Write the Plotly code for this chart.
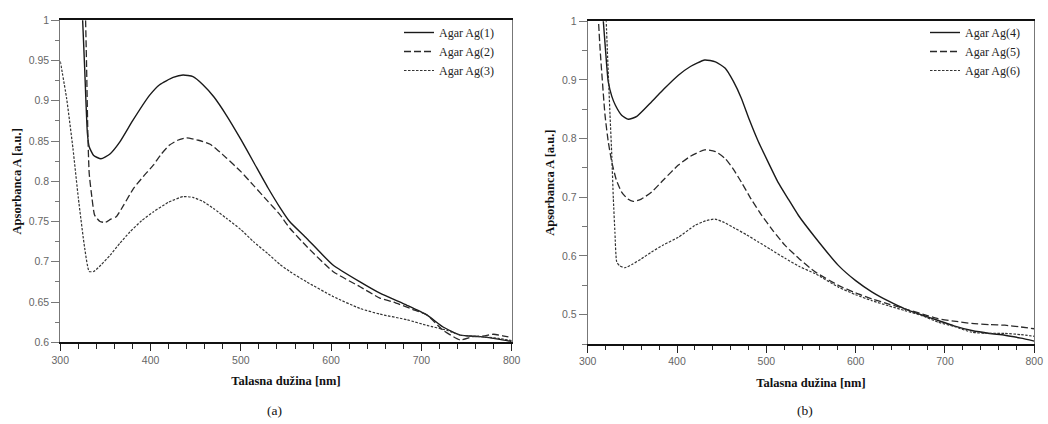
import plotly.graph_objects as go

# ---------------- data ----------------
# Panel (a)
wl_1 = [324, 327, 330, 332, 337, 345, 355, 366, 380, 399, 410, 425, 436, 447, 458, 470, 484, 500,
        514, 530, 543, 554, 573, 602, 632, 654, 684, 706, 724, 743, 765, 785, 800]
abs_1 = [1.02, 0.94, 0.86, 0.843, 0.832, 0.828, 0.834, 0.849, 0.875, 0.907, 0.920, 0.929, 0.932, 0.930,
         0.920, 0.905, 0.882, 0.852, 0.824, 0.792, 0.768, 0.750, 0.729, 0.696, 0.675, 0.661, 0.646,
         0.634, 0.619, 0.609, 0.607, 0.604, 0.601]

wl_2 = [327, 329, 330.5, 332, 335, 338, 344, 350, 356, 362, 370, 381, 392, 403, 412, 421, 430, 440,
        453, 466, 475, 484, 500, 514, 530, 543, 554, 573, 602, 632, 654, 669, 690, 706, 724, 743,
        757, 770, 780, 790, 800]
abs_2 = [1.05, 0.95, 0.86, 0.81, 0.78, 0.758, 0.750, 0.749, 0.753, 0.756, 0.770, 0.791, 0.806, 0.820,
         0.834, 0.845, 0.851, 0.854, 0.851, 0.846, 0.838, 0.829, 0.812, 0.795, 0.775, 0.759, 0.742,
         0.719, 0.688, 0.669, 0.655, 0.650, 0.641, 0.634, 0.615, 0.603, 0.607, 0.608, 0.610, 0.608,
         0.606]

wl_3 = [300, 307, 314, 320, 327, 332, 337, 345, 355, 366, 377, 390, 403, 420, 436, 447, 458, 470,
        484, 500, 514, 530, 543, 554, 573, 602, 632, 654, 684, 706, 728, 743, 765, 785, 800]
abs_3 = [0.949, 0.903, 0.841, 0.779, 0.717, 0.688, 0.688, 0.696, 0.708, 0.723, 0.737, 0.751, 0.762,
         0.774, 0.781, 0.780, 0.775, 0.766, 0.754, 0.740, 0.725, 0.710, 0.697, 0.688, 0.675, 0.657,
         0.642, 0.635, 0.628, 0.621, 0.615, 0.609, 0.607, 0.605, 0.602]

# Panel (b)
wl_4 = [316, 320, 323, 327, 331, 338, 345.5, 355, 371.6, 385, 401.5, 415, 431, 443, 454, 463, 472,
        481, 491, 502, 513, 525, 536, 554.5, 580.6, 600, 618, 637, 655, 675, 692.5, 710, 730, 750,
        767, 785, 800]
abs_4 = [1.03, 0.95, 0.897, 0.872, 0.857, 0.840, 0.833, 0.838, 0.863, 0.884, 0.908, 0.923, 0.934,
         0.931, 0.920, 0.898, 0.869, 0.832, 0.795, 0.760, 0.726, 0.696, 0.669, 0.632, 0.584, 0.558,
         0.539, 0.523, 0.510, 0.499, 0.490, 0.481, 0.473, 0.468, 0.465, 0.460, 0.455]

wl_5 = [311, 314, 319.4, 323, 327, 332, 338, 345, 351, 360, 371.6, 385, 401.5, 415, 431, 443, 454,
        463, 472, 483, 495, 508, 521, 537, 554.5, 580.6, 600, 618, 637, 655, 675, 692.5, 710, 730,
        750, 767, 785, 800]
abs_5 = [1.03, 0.95, 0.840, 0.795, 0.760, 0.730, 0.709, 0.697, 0.693, 0.697, 0.709, 0.730, 0.755,
         0.770, 0.781, 0.778, 0.766, 0.748, 0.726, 0.697, 0.669, 0.642, 0.618, 0.595, 0.573, 0.550,
         0.537, 0.527, 0.518, 0.510, 0.501, 0.493, 0.489, 0.485, 0.483, 0.482, 0.479, 0.476]

wl_6 = [320, 322, 325, 327, 328.7, 330.5, 332.5, 336, 341.8, 350, 360, 371.6, 385, 401.5, 420, 432,
        442.5, 453, 465, 478, 491, 505, 521, 537, 554.5, 580.6, 600, 618, 637, 655, 675, 692.5, 710,
        730, 750, 767, 785, 800]
abs_6 = [1.03, 0.95, 0.840, 0.77, 0.698, 0.64, 0.590, 0.583, 0.580, 0.586, 0.595, 0.607, 0.619, 0.632,
         0.652, 0.660, 0.663, 0.657, 0.647, 0.636, 0.624, 0.611, 0.596, 0.582, 0.570, 0.547, 0.534,
         0.524, 0.515, 0.507, 0.498, 0.487, 0.480, 0.470, 0.468, 0.468, 0.466, 0.463]

names_a = ["Agar Ag(1)", "Agar Ag(2)", "Agar Ag(3)"]
names_b = ["Agar Ag(4)", "Agar Ag(5)", "Agar Ag(6)"]

x_ticks = [300, 400, 500, 600, 700, 800]
x_ticktext = ["300", "400", "500", "600", "700", "800"]
ya_ticks = [0.6, 0.65, 0.7, 0.75, 0.8, 0.85, 0.9, 0.95, 1.0]
ya_ticktext = ["0.6", "0.65", "0.7", "0.75", "0.8", "0.85", "0.9", "0.95", "1"]
yb_ticks = [0.5, 0.6, 0.7, 0.8, 0.9, 1.0]
yb_ticktext = ["0.5", "0.6", "0.7", "0.8", "0.9", "1"]

x_title = "Talasna dužina [nm]"
y_title = "Apsorbanca A [a.u.]"
captions = ["(a)", "(b)"]

# ---------------- figure ----------------
W, H = 1048, 424
fig = go.Figure()

styles = [dict(color="#1a1a1a", width=1.4, dash="solid"),
          dict(color="#2a2a2a", width=1.3, dash="7px,3px"),
          dict(color="#333333", width=1.2, dash="2.5px,1.5px")]

series_a = [(wl_1, abs_1), (wl_2, abs_2), (wl_3, abs_3)]
series_b = [(wl_4, abs_4), (wl_5, abs_5), (wl_6, abs_6)]

for i, ((x, y), nm) in enumerate(zip(series_a, names_a)):
    fig.add_trace(go.Scatter(x=x, y=y, mode="lines", name=nm,
                             line=dict(**styles[i], shape="spline", smoothing=0.5),
                             xaxis="x", yaxis="y", legend="legend"))
for i, ((x, y), nm) in enumerate(zip(series_b, names_b)):
    fig.add_trace(go.Scatter(x=x, y=y, mode="lines", name=nm,
                             line=dict(**styles[i], shape="spline", smoothing=0.5),
                             xaxis="x2", yaxis="y2", legend="legend2"))

tick_font = dict(family="Liberation Sans", size=10.5, color="#666666")
serif = "Times New Roman, Liberation Serif, serif"
title_font = dict(family=serif, size=12.5, color="#111111", weight="bold")

def xaxis(domain, anchor):
    return dict(domain=domain, anchor=anchor, range=[300, 800], tickmode="array",
                tickvals=x_ticks, ticktext=x_ticktext, ticks="outside", ticklen=7, tickwidth=1,
                tickcolor="#222222",
                minor=dict(dtick=20, tick0=300, ticks="outside", ticklen=4.5,
                           tickcolor="#222222", showgrid=False),
                showline=True, linecolor="#111111", linewidth=1.5, mirror=True, showgrid=False,
                zeroline=False, tickfont=tick_font, automargin=False,
                title=dict(text=x_title, font=title_font, standoff=12))

def yaxis(domain, anchor, rng, tv, tt, mdt):
    return dict(domain=domain, anchor=anchor, range=rng, tickmode="array", tickvals=tv, ticktext=tt,
                ticks="outside", ticklen=8, tickwidth=1, tickcolor="#777777",
                minor=dict(dtick=mdt, tick0=rng[0], ticks="outside", ticklen=4.5, tickcolor="#777777",
                           showgrid=False),
                showline=True, linecolor="#777777", linewidth=1.2, mirror=True, showgrid=False,
                zeroline=False, tickfont=tick_font, automargin=False,
                title=dict(text=y_title, font=title_font, standoff=4))

legend_font = dict(family=serif, size=12, color="#222222")

fig.update_layout(
    width=W, height=H, margin=dict(l=0, r=0, t=0, b=0),
    paper_bgcolor="white", plot_bgcolor="white",
    xaxis=xaxis([60.3 / W, 511.7 / W], "y"),
    yaxis=yaxis([1 - 342.3 / H, 1 - 20.3 / H], "x", [0.6, 1.0], ya_ticks, ya_ticktext, 0.025),
    xaxis2=xaxis([587.7 / W, 1034.3 / W], "y2"),
    yaxis2=yaxis([1 - 344 / H, 1 - 21.3 / H], "x2", [0.45, 1.0], yb_ticks, yb_ticktext, 0.05),
    legend=dict(x=399 / W, y=1 - 18 / H, xanchor="left", yanchor="top", bgcolor="rgba(0,0,0,0)",
                font=legend_font, tracegroupgap=0),
    legend2=dict(x=925 / W, y=1 - 18 / H, xanchor="left", yanchor="top", bgcolor="rgba(0,0,0,0)",
                 font=legend_font, tracegroupgap=0),
    showlegend=True,
)

for cap, cx in zip(captions, [274, 805]):
    fig.add_annotation(text=cap, x=cx / W, y=1 - 410 / H, xref="paper", yref="paper",
                       xanchor="center", yanchor="middle",
                       showarrow=False, font=dict(family=serif, size=13.5, color="#111111"))

fig.write_html("out.html", config={"displayModeBar": False},
               post_script="document.body.style.margin='0';document.body.style.overflow='hidden';")
